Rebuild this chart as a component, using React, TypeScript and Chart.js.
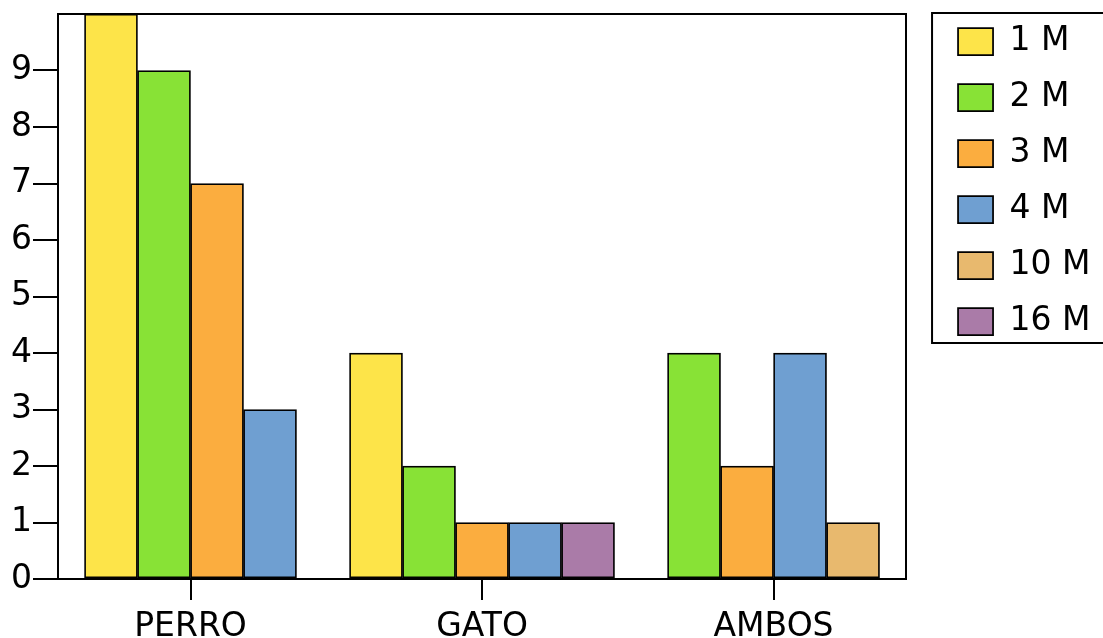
import React, { useEffect, useRef } from 'react';
import { Chart, registerables } from 'chart.js';

Chart.register(...registerables);

// ---- data ----
const CATEGORIES = ['PERRO', 'GATO', 'AMBOS'];
const SERIES_LABELS = ['1 M', '2 M', '3 M', '4 M', '10 M', '16 M'];
const M1: (number | null)[] = [10, 4, null];
const M2: (number | null)[] = [9, 2, 4];
const M3: (number | null)[] = [7, 1, 2];
const M4: (number | null)[] = [3, 1, 4];
const M10: (number | null)[] = [null, null, 1];
const M16: (number | null)[] = [null, 1, null];
const Y_TICKS = [0, 1, 2, 3, 4, 5, 6, 7, 8, 9];
const Y_MAX = 10;

// ---- style ----
const COLORS = ['#FDE449', '#88E236', '#FBAD3F', '#6F9FD1', '#E8B96E', '#AA7BA8'];
const FONT = "'DejaVu Sans', Verdana, sans-serif";
const LEGEND_PAD = 23;
const LEGEND_FONT = 33;
const LEGEND_BOX_W = 35;
const LEGEND_BOX_H = 27;
const TICK_FONT = 33;

export default function App() {
  const ref = useRef<HTMLCanvasElement>(null);

  useEffect(() => {
    if (!ref.current) return;
    Chart.defaults.font.family = FONT;
    Chart.defaults.color = '#000';

    const values = [M1, M2, M3, M4, M10, M16];
    const SPACING = 5.5;
    const SIDE = 2.5;

    const datasets = SERIES_LABELS.map((label, s) => {
      const data: { x: number; y: number }[] = [];
      CATEGORIES.forEach((_, c) => {
        const v = values[s][c];
        if (v == null) return;
        const present = values
          .map((arr, k) => (arr[c] != null ? k : -1))
          .filter((k) => k >= 0);
        const rank = present.indexOf(s);
        data.push({ x: c * SPACING + rank - (present.length - 1) / 2, y: v });
      });
      return {
        label,
        data,
        backgroundColor: COLORS[s],
        borderColor: '#000',
        borderWidth: 1.75,
        borderSkipped: false,
        grouped: false,
        barPercentage: 1,
        categoryPercentage: 1,
      };
    });

    const legendFrame = {
      id: 'legendFrame',
      afterDraw(chart: any) {
        const lg = chart.legend;
        if (!lg) return;
        const ctx = chart.ctx;
        const boxTop0 = lg.top + LEGEND_PAD + Math.max((LEGEND_FONT - LEGEND_BOX_H) / 2, 0);
        const top = boxTop0 - 15;
        const lastBottom =
          boxTop0 + (SERIES_LABELS.length - 1) * (LEGEND_FONT + LEGEND_PAD) + LEGEND_BOX_H;
        const bottom = lastBottom + 8;
        const left = lg.left + LEGEND_PAD - 26;
        ctx.save();
        ctx.strokeStyle = '#000';
        ctx.lineWidth = 2;
        ctx.strokeRect(left, top, chart.width - left + 10, bottom - top);
        ctx.restore();
      },
    };

    const chart = new Chart(ref.current, {
      type: 'bar',
      data: { datasets: datasets as any },
      plugins: [legendFrame],
      options: {
        animation: false,
        responsive: false,
        layout: { padding: { left: 0, top: 2, right: 2.5, bottom: 0 } },
        plugins: {
          legend: {
            display: true,
            position: 'right',
            align: 'start',
            labels: {
              boxWidth: LEGEND_BOX_W,
              boxHeight: LEGEND_BOX_H,
              padding: LEGEND_PAD,
              color: '#000',
              font: { size: LEGEND_FONT, family: FONT },
            },
          },
          tooltip: { enabled: false },
        },
        scales: {
          x: {
            type: 'linear',
            position: 'bottom',
            min: -SIDE,
            max: (CATEGORIES.length - 1) * SPACING + SIDE,
            offset: false,
            grid: {
              display: true,
              offset: false,
              drawOnChartArea: false,
              drawTicks: true,
              tickLength: 21,
              color: '#000',
              lineWidth: 2,
            },
            border: { display: true, color: '#000', width: 2 },
            ticks: {
              autoSkip: false,
              maxRotation: 0,
              padding: 8,
              color: '#000',
              font: { size: TICK_FONT, family: FONT },
              callback: (_v: any, i: number) => CATEGORIES[i],
            },
            afterBuildTicks: (s: any) => {
              s.ticks = CATEGORIES.map((_, i) => ({ value: i * SPACING }));
            },
            afterFit: (s: any) => {
              s.height = 59;
              s.paddingLeft = 0;
              s.paddingRight = 0;
            },
          },
          x2: {
            type: 'linear',
            position: 'top',
            display: true,
            grid: { display: false },
            ticks: { display: false },
            border: { display: true, color: '#000', width: 2 },
            afterFit: (s: any) => {
              s.height = 12;
              s.paddingLeft = 0;
              s.paddingRight = 0;
            },
          },
          y: {
            type: 'linear',
            position: 'left',
            min: 0,
            max: Y_MAX,
            grid: {
              display: true,
              drawOnChartArea: false,
              drawTicks: true,
              tickLength: 25,
              color: '#000',
              lineWidth: 2,
            },
            border: { display: true, color: '#000', width: 2 },
            ticks: {
              stepSize: 1,
              padding: 1,
              color: '#000',
              font: { size: TICK_FONT, family: FONT },
            },
            afterBuildTicks: (s: any) => {
              s.ticks = Y_TICKS.map((v) => ({ value: v }));
            },
            afterFit: (s: any) => {
              s.width = 58;
              s.paddingTop = 0;
              s.paddingBottom = 0;
            },
          },
          y2: {
            type: 'linear',
            position: 'right',
            display: true,
            grid: { display: false },
            ticks: { display: false },
            border: { display: true, color: '#000', width: 2 },
            afterFit: (s: any) => {
              s.width = 29;
              s.paddingTop = 0;
              s.paddingBottom = 0;
            },
          },
        },
      } as any,
    });

    return () => chart.destroy();
  }, []);

  return (
    <div style={{ position: 'absolute', left: 0, top: 0, width: 1103, height: 638 }}>
      <canvas ref={ref} width={1103} height={638} style={{ display: 'block' }} />
    </div>
  );
}
